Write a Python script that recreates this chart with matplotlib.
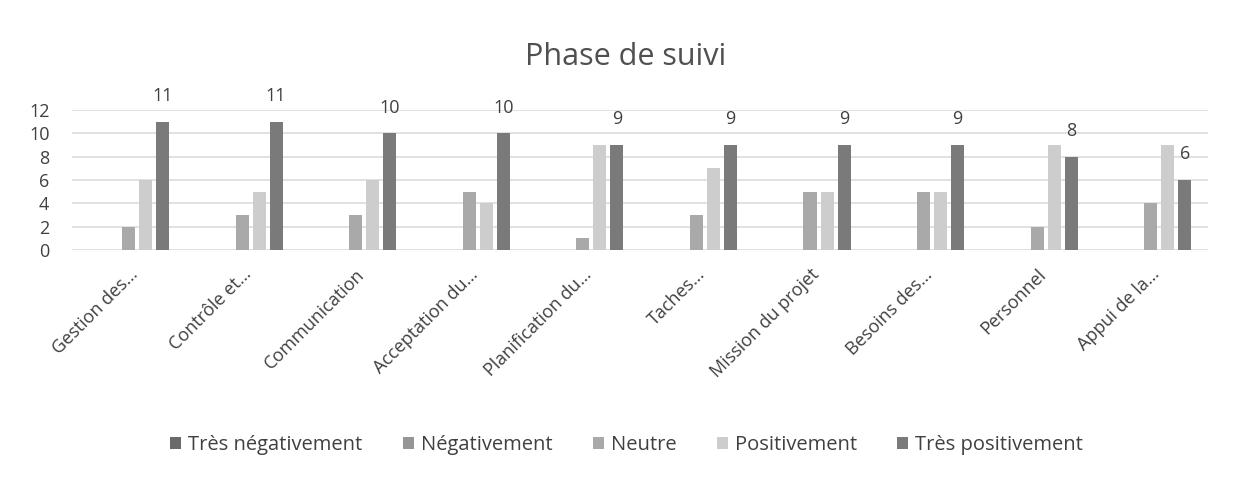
import numpy as np
import matplotlib.pyplot as plt

plt.rcParams['font.family'] = ['Open Sans', 'DejaVu Sans']

categories = ["Gestion des…", "Contrôle et…", "Communication", "Acceptation du…",
              "Planification du…", "Taches…", "Mission du projet", "Besoins des…",
              "Personnel", "Appui de la…"]
series_names = ["Très négativement", "Négativement", "Neutre", "Positivement", "Très positivement"]
tres_negativement = [0, 0, 0, 0, 0, 0, 0, 0, 0, 0]
negativement = [0, 0, 0, 0, 0, 0, 0, 0, 0, 0]
neutre = [2, 3, 3, 5, 1, 3, 5, 5, 2, 4]
positivement = [6, 5, 6, 4, 9, 7, 5, 5, 9, 9]
tres_positivement = [11, 11, 10, 10, 9, 9, 9, 9, 8, 6]

colors = ["#6a6a6a", "#959595", "#a9a9a9", "#cdcdcd", "#7a7a7a"]
series = [tres_negativement, negativement, neutre, positivement, tres_positivement]

fig = plt.figure(figsize=(12.36, 4.8), dpi=100)
ax = fig.add_axes([0.058, 0.479, 0.919, 0.292])

x = np.arange(len(categories))
step = 0.15
width = 0.115
for i, (vals, name, c) in enumerate(zip(series, series_names, colors)):
    bars = ax.bar(x + (i - 2) * step, vals, width, color=c, label=name, zorder=3)
    if i == 4:
        ax.bar_label(bars, padding=12, fontsize=13, color="#404040")

ax.set_ylim(0, 12)
ax.set_xlim(-0.5, len(categories) - 0.5)
ax.set_yticks(range(0, 13, 2))
ax.yaxis.grid(True, color="#dcdcdc", linewidth=1.2, zorder=0)
for s in ax.spines.values():
    s.set_visible(False)
ax.tick_params(axis="both", length=0, labelsize=13, labelcolor="#404040")
ax.tick_params(axis="y", pad=16)
ax.tick_params(axis="x", pad=11)
ax.set_xticks(x)
ax.set_xticklabels(categories, rotation=45, ha="right", rotation_mode="anchor")

fig.text(0.506, 0.882, "Phase de suivi", ha="center", va="center", fontsize=22, color="#505050")

fig.legend(loc="center", bbox_to_anchor=(0.507, 0.073), ncol=5, frameon=False,
           fontsize=14.5, handlelength=0.55, handleheight=0.55, columnspacing=2.0,
           handletextpad=0.35, labelcolor="#404040")

fig.savefig("out.png", dpi=100, facecolor="white")
